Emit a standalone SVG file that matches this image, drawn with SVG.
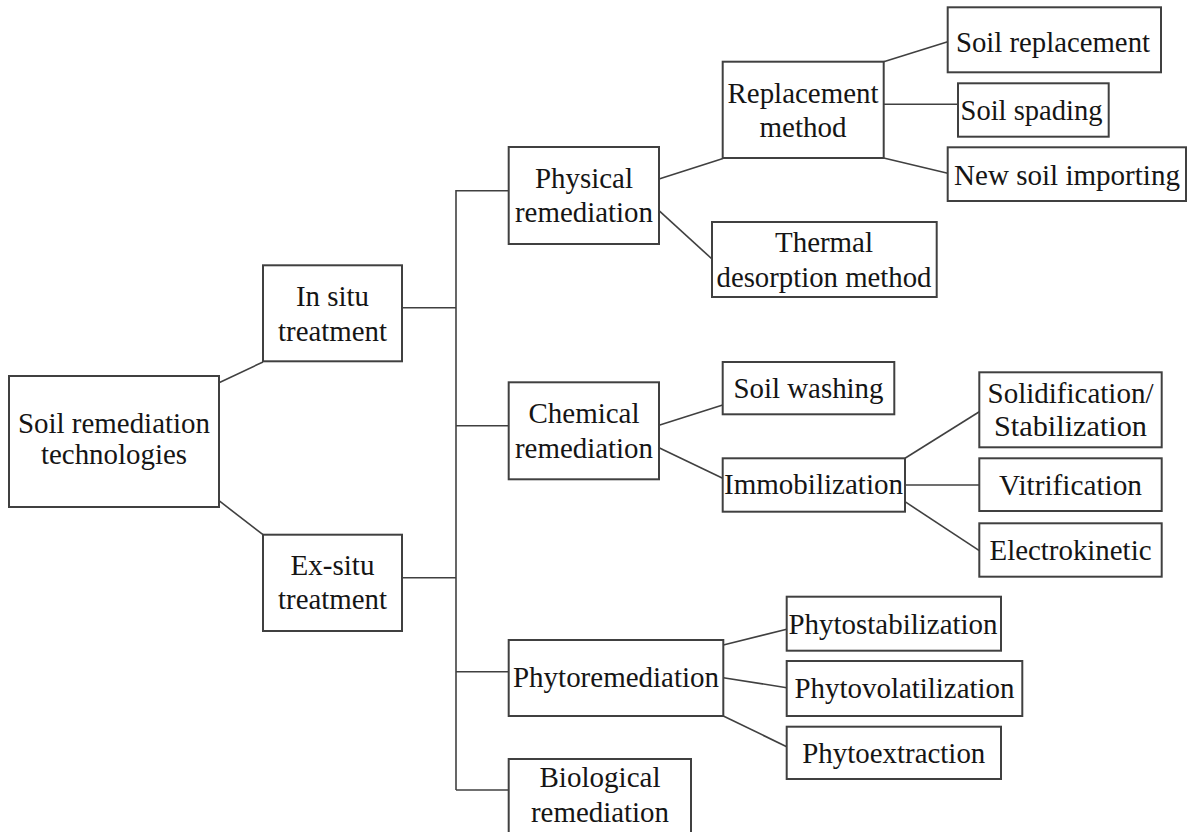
<svg xmlns="http://www.w3.org/2000/svg" width="1189" height="832" viewBox="0 0 1189 832">
<style>
.box{fill:#fff;stroke:#404040;stroke-width:2}
.t{font-family:'Liberation Serif','Times New Roman','DejaVu Serif',serif;font-size:29px;fill:#151515;text-anchor:middle}
.c{fill:none;stroke:#404040;stroke-width:1.6}
</style>
<rect width="1189" height="832" fill="#fff"/>
<g id="connectors">
<line class="c" x1="219" y1="382.7" x2="263" y2="362"/>
<line class="c" x1="219" y1="500.7" x2="263" y2="534.7"/>
<line class="c" x1="402" y1="307.7" x2="456" y2="307.7"/>
<line class="c" x1="402" y1="577.7" x2="456" y2="577.7"/>
<line class="c" x1="456" y1="190" x2="456" y2="790"/>
<line class="c" x1="456" y1="190.7" x2="509" y2="190.7"/>
<line class="c" x1="456" y1="425.7" x2="509" y2="425.7"/>
<line class="c" x1="456" y1="671.7" x2="509" y2="671.7"/>
<line class="c" x1="456" y1="790" x2="509" y2="790"/>
<line class="c" x1="659" y1="179" x2="723" y2="158.5"/>
<line class="c" x1="659" y1="210.7" x2="712" y2="259"/>
<line class="c" x1="883.7" y1="61.7" x2="947.7" y2="41.7"/>
<line class="c" x1="883.7" y1="104.3" x2="958" y2="104.3"/>
<line class="c" x1="883.7" y1="158" x2="947.7" y2="173.3"/>
<line class="c" x1="659" y1="425.3" x2="722.7" y2="405"/>
<line class="c" x1="659" y1="447.7" x2="722.7" y2="478.3"/>
<line class="c" x1="905" y1="458.3" x2="979.3" y2="411.7"/>
<line class="c" x1="905" y1="485" x2="979.3" y2="485"/>
<line class="c" x1="905" y1="501.7" x2="979.3" y2="550.7"/>
<line class="c" x1="723.3" y1="645" x2="786.7" y2="629.3"/>
<line class="c" x1="723.3" y1="677.7" x2="786.7" y2="687.7"/>
<line class="c" x1="723.3" y1="716" x2="786.7" y2="746.7"/>
</g>
<g id="root"><rect class="box" x="9" y="376" width="210" height="131"/><text class="t" x="114" y="433" textLength="192" lengthAdjust="spacingAndGlyphs">Soil remediation</text><text class="t" x="114" y="464" textLength="146" lengthAdjust="spacingAndGlyphs">technologies</text></g>
<g id="insitu"><rect class="box" x="263" y="265.3" width="139" height="96"/><text class="t" x="332.5" y="306" textLength="73" lengthAdjust="spacingAndGlyphs">In situ</text><text class="t" x="332.5" y="340.7" textLength="109" lengthAdjust="spacingAndGlyphs">treatment</text></g>
<g id="exsitu"><rect class="box" x="263" y="534.7" width="139" height="96.3"/><text class="t" x="332.5" y="575" textLength="84" lengthAdjust="spacingAndGlyphs">Ex-situ</text><text class="t" x="332.5" y="609" textLength="109" lengthAdjust="spacingAndGlyphs">treatment</text></g>
<g id="physical"><rect class="box" x="508.7" y="147" width="150.3" height="97"/><text class="t" x="584" y="188" textLength="98" lengthAdjust="spacingAndGlyphs">Physical</text><text class="t" x="584" y="222" textLength="138" lengthAdjust="spacingAndGlyphs">remediation</text></g>
<g id="replacement"><rect class="box" x="722.7" y="61.7" width="161" height="96.3"/><text class="t" x="803" y="103" textLength="151" lengthAdjust="spacingAndGlyphs">Replacement</text><text class="t" x="803" y="137" textLength="87" lengthAdjust="spacingAndGlyphs">method</text></g>
<g id="soilreplacement"><rect class="box" x="947.7" y="7.3" width="213.3" height="65"/><text class="t" x="1053" y="51.7" textLength="194" lengthAdjust="spacingAndGlyphs">Soil replacement</text></g>
<g id="soilspading"><rect class="box" x="958" y="83.3" width="150.7" height="53.4"/><text class="t" x="1031.5" y="120" textLength="142" lengthAdjust="spacingAndGlyphs">Soil spading</text></g>
<g id="newsoil"><rect class="box" x="947.7" y="147.3" width="238.3" height="53.7"/><text class="t" x="1067" y="185" textLength="226" lengthAdjust="spacingAndGlyphs">New soil importing</text></g>
<g id="thermal"><rect class="box" x="712" y="222" width="224.7" height="75"/><text class="t" x="824" y="252" textLength="98" lengthAdjust="spacingAndGlyphs">Thermal</text><text class="t" x="824" y="287" textLength="215" lengthAdjust="spacingAndGlyphs">desorption method</text></g>
<g id="chemical"><rect class="box" x="508.7" y="382.3" width="150.3" height="97"/><text class="t" x="584" y="423.3" textLength="111" lengthAdjust="spacingAndGlyphs">Chemical</text><text class="t" x="584" y="458.3" textLength="138" lengthAdjust="spacingAndGlyphs">remediation</text></g>
<g id="soilwashing"><rect class="box" x="722.7" y="362" width="171.6" height="52.3"/><text class="t" x="808.5" y="398.3" textLength="150" lengthAdjust="spacingAndGlyphs">Soil washing</text></g>
<g id="immobilization"><rect class="box" x="722.7" y="458.3" width="182.3" height="53.4"/><text class="t" x="813.5" y="494.3" textLength="179" lengthAdjust="spacingAndGlyphs">Immobilization</text></g>
<g id="solidification"><rect class="box" x="979.3" y="372.3" width="182.4" height="75"/><text class="t" x="1070.5" y="402.7" textLength="166" lengthAdjust="spacingAndGlyphs">Solidification/</text><text class="t" x="1070.5" y="436" textLength="153" lengthAdjust="spacingAndGlyphs">Stabilization</text></g>
<g id="vitrification"><rect class="box" x="979.3" y="458.3" width="182.4" height="52.7"/><text class="t" x="1070.5" y="495" textLength="143" lengthAdjust="spacingAndGlyphs">Vitrification</text></g>
<g id="electrokinetic"><rect class="box" x="979.3" y="523.3" width="182.4" height="53.4"/><text class="t" x="1070.5" y="560" textLength="162" lengthAdjust="spacingAndGlyphs">Electrokinetic</text></g>
<g id="phytoremediation"><rect class="box" x="508.7" y="640" width="214.6" height="76"/><text class="t" x="616" y="686.7" textLength="206" lengthAdjust="spacingAndGlyphs">Phytoremediation</text></g>
<g id="phytostabilization"><rect class="box" x="786.7" y="596.7" width="214.3" height="54"/><text class="t" x="893" y="634.3" textLength="209" lengthAdjust="spacingAndGlyphs">Phytostabilization</text></g>
<g id="phytovolatilization"><rect class="box" x="786.7" y="661" width="235.6" height="55"/><text class="t" x="904.5" y="697.7" textLength="220" lengthAdjust="spacingAndGlyphs">Phytovolatilization</text></g>
<g id="phytoextraction"><rect class="box" x="786.7" y="726.7" width="214.3" height="52.3"/><text class="t" x="893.8" y="763.3" textLength="183" lengthAdjust="spacingAndGlyphs">Phytoextraction</text></g>
<g id="biological"><rect class="box" x="508.7" y="759" width="182.3" height="90"/><text class="t" x="600" y="786.7" textLength="121" lengthAdjust="spacingAndGlyphs">Biological</text><text class="t" x="600" y="821.7" textLength="138" lengthAdjust="spacingAndGlyphs">remediation</text></g>
</svg>
